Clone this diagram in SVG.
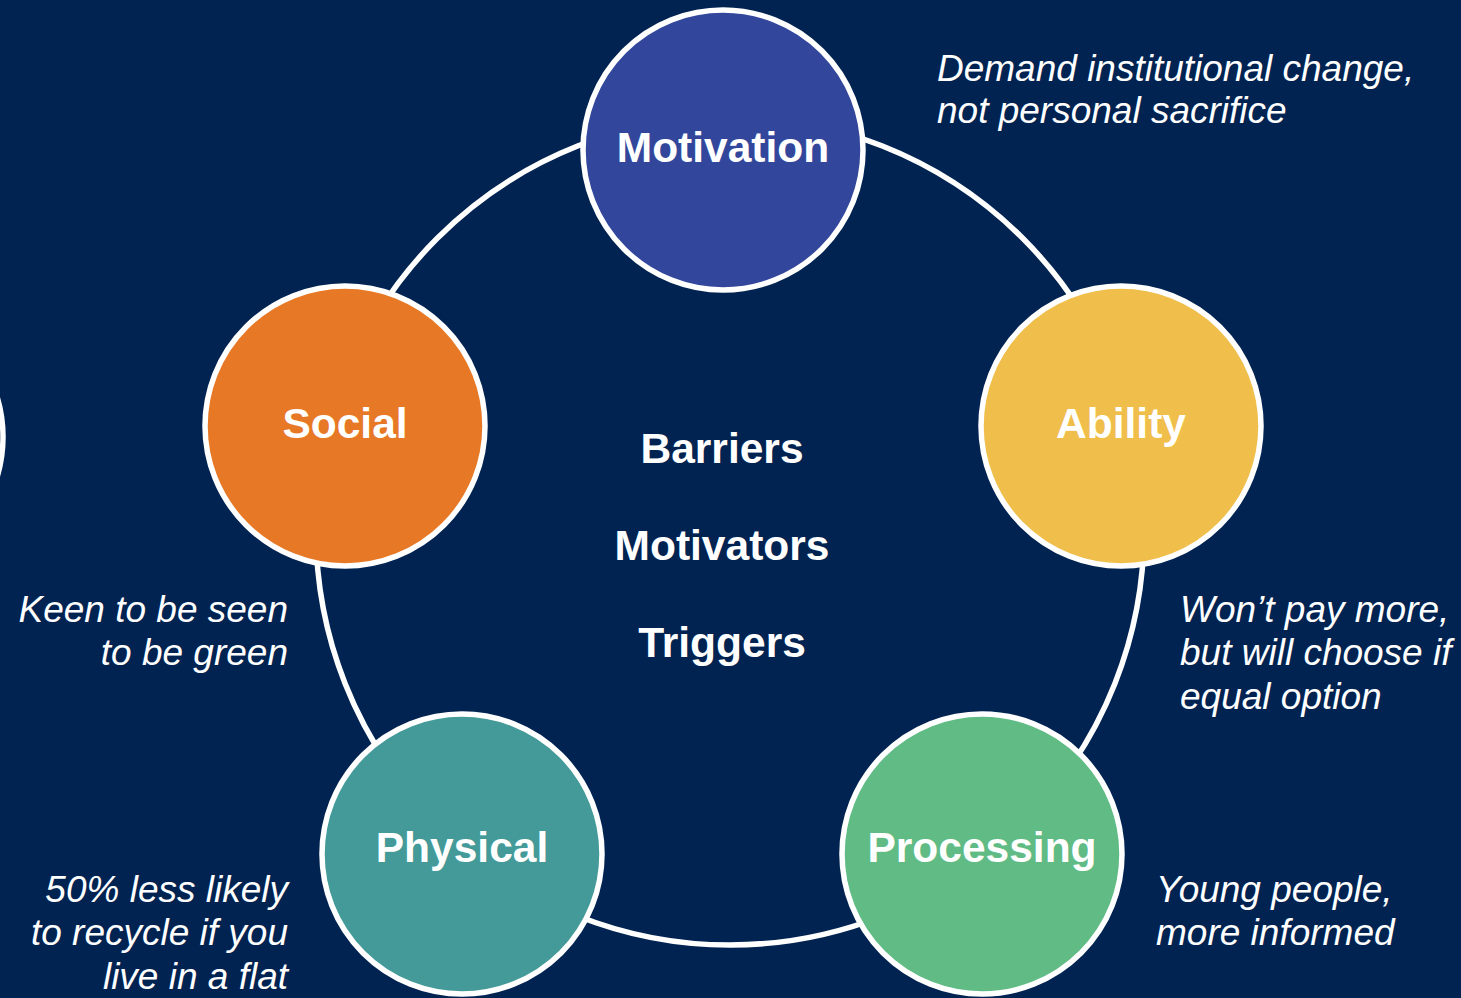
<svg xmlns="http://www.w3.org/2000/svg" width="1461" height="998" viewBox="0 0 1461 998">
  <style>
    .node { stroke: #ffffff; stroke-width: 5.5; }
    .label { font-family: "Liberation Sans", Arial, sans-serif; font-weight: bold; font-size: 42.5px; fill: #ffffff; text-anchor: middle; }
    .note { font-family: "Liberation Sans", Arial, sans-serif; font-style: italic; font-size: 37px; fill: #ffffff; }
    .right { text-anchor: end; }
  </style>
  <rect width="1461" height="998" fill="#012352"/>

  <!-- edge of a neighbouring circle, cut off at the left border -->
  <g id="offscreen-node">
    <circle cx="-136" cy="437" r="139" fill="#01142e" stroke="#ffffff" stroke-width="5.5"/>
  </g>

  <!-- ring joining the five factors -->
  <g id="connectors">
    <circle cx="730" cy="531" r="414" fill="none" stroke="#ffffff" stroke-width="5.5"/>
  </g>

  <g id="node-motivation">
    <circle class="node" cx="723" cy="150" r="140" fill="#32479B"/>
    <text class="label" x="723" y="162">Motivation</text>
  </g>

  <g id="node-social">
    <circle class="node" cx="345" cy="426" r="140" fill="#E77825"/>
    <text class="label" x="345" y="438">Social</text>
  </g>

  <g id="node-ability">
    <circle class="node" cx="1121" cy="426" r="140" fill="#F0BE4B"/>
    <text class="label" x="1121" y="438">Ability</text>
  </g>

  <g id="node-physical">
    <circle class="node" cx="462" cy="854" r="140" fill="#439A98"/>
    <text class="label" x="462" y="862">Physical</text>
  </g>

  <g id="node-processing">
    <circle class="node" cx="982" cy="854" r="140" fill="#60BB85"/>
    <text class="label" x="982" y="862">Processing</text>
  </g>

  <g id="centre-text">
    <text class="label" x="722" y="463">Barriers</text>
    <text class="label" x="722" y="560">Motivators</text>
    <text class="label" x="722" y="657">Triggers</text>
  </g>

  <g id="notes">
    <text class="note" x="937" y="81">Demand institutional change,</text>
    <text class="note" x="937" y="123">not personal sacrifice</text>

    <text class="note right" x="288" y="622">Keen to be seen</text>
    <text class="note right" x="288" y="665">to be green</text>

    <text class="note" x="1180" y="622">Won’t pay more,</text>
    <text class="note" x="1180" y="665">but will choose if</text>
    <text class="note" x="1180" y="709">equal option</text>

    <text class="note right" x="288" y="902">50% less likely</text>
    <text class="note right" x="288" y="945">to recycle if you</text>
    <text class="note right" x="288" y="989">live in a flat</text>

    <text class="note" x="1156" y="902">Young people,</text>
    <text class="note" x="1156" y="945">more informed</text>
  </g>
</svg>
